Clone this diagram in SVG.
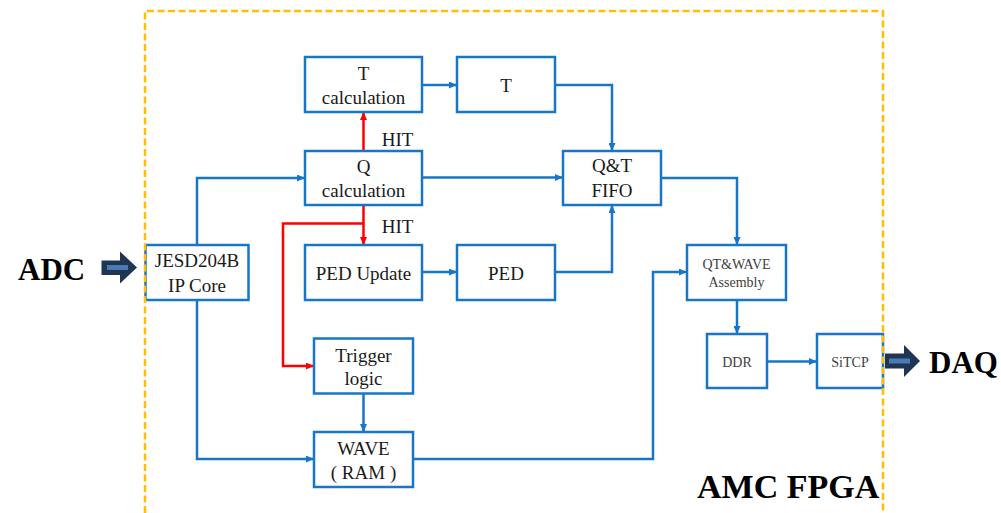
<svg xmlns="http://www.w3.org/2000/svg" width="1001" height="513" viewBox="0 0 1001 513">
<style>
.box{fill:#fff;stroke:#1876C8;stroke-width:2.5}
.w{fill:none;stroke:#1876C8;stroke-width:2.5}
.r{fill:none;stroke:#FF0000;stroke-width:2.5}
.t{font-family:"Liberation Serif","Times New Roman",serif;font-size:19px;fill:#1a1a1a;text-anchor:middle}
.s{font-family:"Liberation Serif","Times New Roman",serif;font-size:14px;fill:#404040;text-anchor:middle}
.b{font-family:"Liberation Serif","Times New Roman",serif;font-weight:bold;fill:#000}
.fr{fill:none;stroke:#FFC000;stroke-width:2.5;stroke-dasharray:7 3.5}
</style>
<defs>
<marker id="ab" markerUnits="userSpaceOnUse" markerWidth="8" markerHeight="7" refX="8" refY="3.5" orient="auto"><path d="M0,0 L8,3.5 L0,7 z" fill="#1876C8"/></marker>
<marker id="ar" markerUnits="userSpaceOnUse" markerWidth="8" markerHeight="7" refX="8" refY="3.5" orient="auto"><path d="M0,0 L8,3.5 L0,7 z" fill="#FF0000"/></marker>
</defs>
<rect width="1001" height="513" fill="#fff"/>

<g id="connectors">
<polyline class="w" points="197,245 197,178 305,178" marker-end="url(#ab)"/>
<polyline class="w" points="197,300 197,459 314,459" marker-end="url(#ab)"/>
<line class="w" x1="422" y1="85" x2="457" y2="85" marker-end="url(#ab)"/>
<polyline class="w" points="555,85 612,85 612,151" marker-end="url(#ab)"/>
<line class="w" x1="422" y1="177.5" x2="563" y2="177.5" marker-end="url(#ab)"/>
<line class="w" x1="422" y1="272" x2="457" y2="272" marker-end="url(#ab)"/>
<polyline class="w" points="555,272 612,272 612,205" marker-end="url(#ab)"/>
<polyline class="w" points="661,178 737,178 737,245" marker-end="url(#ab)"/>
<polyline class="w" points="413,459 653,459 653,272 687,272" marker-end="url(#ab)"/>
<line class="w" x1="737" y1="300" x2="737" y2="334" marker-end="url(#ab)"/>
<line class="w" x1="767" y1="361.5" x2="817" y2="361.5" marker-end="url(#ab)"/>
<line class="w" x1="363.5" y1="393" x2="363.5" y2="432" marker-end="url(#ab)"/>
<line class="r" x1="363.5" y1="151" x2="363.5" y2="112" marker-end="url(#ar)"/>
<line class="r" x1="363.5" y1="205" x2="363.5" y2="245" marker-end="url(#ar)"/>
<polyline class="r" points="363.5,223.5 283,223.5 283,366 314,366" marker-end="url(#ar)"/>
<text class="t" x="397.5" y="146">HIT</text>
<text class="t" x="397.5" y="233">HIT</text>
</g>

<g id="tcalc"><rect class="box" x="305" y="57" width="117" height="55"/><text class="t" x="363.5" y="80">T</text><text class="t" x="363.5" y="104">calculation</text></g>
<g id="t"><rect class="box" x="457" y="57" width="98" height="55"/><text class="t" x="506" y="92">T</text></g>
<g id="qcalc"><rect class="box" x="305" y="151" width="117" height="54"/><text class="t" x="363.5" y="173">Q</text><text class="t" x="363.5" y="197">calculation</text></g>
<g id="qtfifo"><rect class="box" x="563" y="151" width="98" height="54"/><text class="t" x="612" y="172">Q&amp;T</text><text class="t" x="612" y="197">FIFO</text></g>
<g id="jesd"><rect class="box" x="145.5" y="245" width="103" height="55"/><text class="t" x="197" y="267">JESD204B</text><text class="t" x="197" y="292">IP Core</text></g>
<g id="pedupdate"><rect class="box" x="305" y="245" width="117" height="55"/><text class="t" x="363.5" y="280">PED Update</text></g>
<g id="ped"><rect class="box" x="457" y="245" width="98" height="55"/><text class="t" x="506" y="280">PED</text></g>
<g id="trigger"><rect class="box" x="314" y="338.5" width="99" height="55"/><text class="t" x="363.5" y="362">Trigger</text><text class="t" x="363.5" y="385">logic</text></g>
<g id="wave"><rect class="box" x="314" y="432" width="99" height="55"/><text class="t" x="363.5" y="455">WAVE</text><text class="t" x="363.5" y="479">( RAM )</text></g>
<g id="assembly"><rect class="box" x="687" y="245" width="99" height="55"/><text class="s" x="736.5" y="268.5">QT&amp;WAVE</text><text class="s" x="736.5" y="287">Assembly</text></g>
<g id="ddr"><rect class="box" x="707" y="334" width="60" height="54"/><text class="s" x="737" y="366.5">DDR</text></g>
<g id="sitcp"><rect class="box" x="817" y="334" width="66" height="54"/><text class="s" x="850" y="366.5">SiTCP</text></g>

<g id="frame"><path class="fr" d="M145,513 V11 H883 V513"/>
<text class="b" x="697" y="498" font-size="34">AMC FPGA</text></g>

<g id="adc">
<text class="b" x="18" y="280" font-size="31">ADC</text>
<path d="M101.5,260.5 H120 V251.5 L137,267.5 L120,283.5 V275 H101.5 z" fill="#1F3552"/>
<rect x="107" y="265" width="21" height="5" fill="#4A7AB5"/>
</g>
<g id="daq">
<path d="M885,353.5 H904 V345 L920,361 L904,377 V368.5 H885 z" fill="#1F3552"/>
<rect x="889" y="358.5" width="21" height="5" fill="#4A7AB5"/>
<text class="b" x="929" y="373" font-size="31">DAQ</text>
</g>
</svg>
